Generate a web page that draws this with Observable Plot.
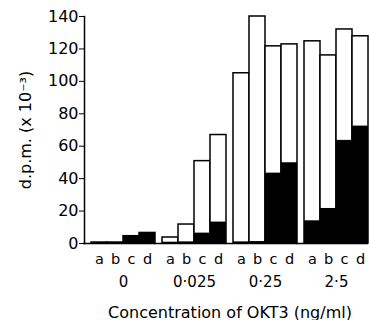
<!DOCTYPE html>
<html>
<head>
<meta charset="utf-8">
<script src="https://cdn.jsdelivr.net/npm/d3@7"></script>
<script src="https://cdn.jsdelivr.net/npm/@observablehq/plot@0.6"></script>
<style>
  html, body { margin: 0; padding: 0; background: #fff; }
</style>
</head>
<body>
<div id="chart"></div>
<script>
const groups = ["0", "0·025", "0·25", "2·5"];
const letters = ["a", "b", "c", "d"];
// total d.p.m. (x 10^-3), white outline bars
const totals = [
  [0.6, 0.6, 4.5, 6.5],
  [3.7, 11.7, 50.8, 66.9],
  [105, 140, 121.6, 122.8],
  [124.7, 116, 132, 127.8]
];
// black (filled) portion
const blacks = [
  [0.6, 0.6, 4.5, 6.5],
  [0.8, 1, 6.4, 13.2],
  [1, 1.2, 43.4, 49.8],
  [14, 21.6, 63.6, 72.4]
];
const yTicks = [0, 20, 40, 60, 80, 100, 120, 140];

const data = [];
groups.forEach((g, i) => letters.forEach((l, j) => {
  data.push({group: g, letter: l, total: totals[i][j], black: blacks[i][j]});
}));

const plot = Plot.plot({
  width: 369,
  height: 320,
  marginTop: 16,
  marginBottom: 77,
  marginLeft: 84,
  marginRight: 0,
  style: {fontFamily: "DejaVu Sans", background: "white", color: "black"},
  fx: {domain: groups, paddingInner: 0.1, paddingOuter: 0, range: [91, 368]},
  x: {domain: letters, padding: 0},
  y: {domain: [0, 140]},
  marks: [
    Plot.barY(data, {fx: "group", x: "letter", y: "total", fill: "white", stroke: "black", strokeWidth: 1.5}),
    Plot.barY(data, {fx: "group", x: "letter", y: "black", fill: "black"}),
    Plot.ruleY([0], {stroke: "black", strokeWidth: 1.5, insetLeft: -8}),
    Plot.frame({anchor: "left", facetAnchor: "left", dx: -7, stroke: "black", strokeWidth: 1.5}),
    Plot.axisY({ticks: yTicks, tickSize: 5, tickPadding: 1, fontSize: 16, tickFormat: d => String(d),
      label: "d.p.m. (x 10⁻³)", labelAnchor: "center", labelOffset: 72, labelArrow: "none", dx: -7}),
    Plot.axisX({tickSize: 0, tickPadding: 10, fontSize: 14.5, label: null}),
    Plot.axisFx({anchor: "bottom", tickSize: 0, tickPadding: 33, fontSize: 15,
      label: "Concentration of OKT3 (ng/ml)", labelAnchor: "center", labelOffset: 74, labelArrow: "none"})
  ]
});
document.getElementById("chart").appendChild(plot);
d3.select(plot).selectAll("text").filter(function () {
  return this.textContent === "Concentration of OKT3 (ng/ml)";
}).attr("font-size", 16);
d3.select(plot).selectAll("text").filter(function () {
  return this.textContent === "d.p.m. (x 10⁻³)";
}).attr("font-size", 16);
</script>
</body>
</html>
